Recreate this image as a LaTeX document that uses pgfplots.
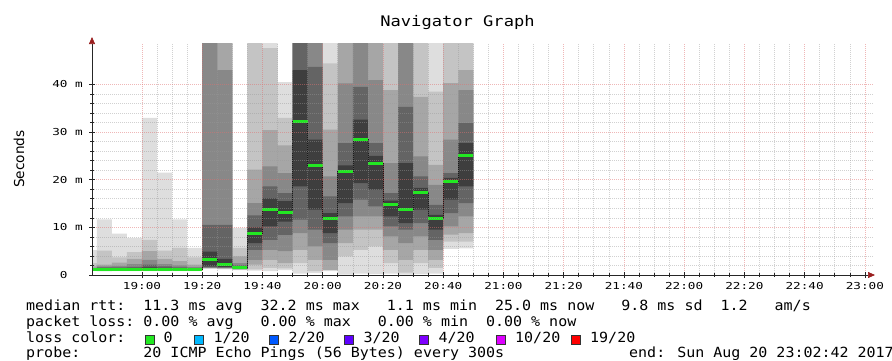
\documentclass[border=0pt]{standalone}
\usepackage{fontspec}
\usepackage{pgfplots}
\pgfplotsset{compat=1.18}
\usepackage{pgfplotstable}
\usepgfplotslibrary{fillbetween}
\usetikzlibrary{arrows.meta}
\setmainfont{DejaVu Sans Mono}
\newfontfamily\tickfont[FakeStretch=1.32]{DejaVu Sans Mono}
\newfontfamily\legfont[FakeStretch=1.07]{DejaVu Sans Mono}
\newfontfamily\titlefont[FakeStretch=1.17]{DejaVu Sans Mono}
\newfontfamily\labfont{DejaVu Sans}
\definecolor{cA}{HTML}{DEDEDE}
\definecolor{cB}{HTML}{C4C4C4}
\definecolor{cC}{HTML}{A6A6A6}
\definecolor{cD}{HTML}{888888}
\definecolor{cE}{HTML}{646464}
\definecolor{cF}{HTML}{3E3E3E}
\definecolor{lossgreen}{HTML}{22E822}
\definecolor{arrowred}{HTML}{9A1F1F}
\definecolor{mgrid}{HTML}{E07070}

\pgfplotstableread{
t    l1   h1   l2   h2   l3   h3   l4   h4   l5   h5   l6   h6   m
-20  0.8  5.2  0.9  2.5  1.0  1.8  1.1  1.5  1.15 1.4  1.2  1.35 1.2
-15  0.75 11.7 0.9  5.1  1.0  2.2  1.1  1.8  1.15 1.6  1.2  1.45 1.2
-10  0.8  8.7  0.9  3.7  1.0  2.6  1.1  1.9  1.15 1.6  1.2  1.45 1.2
-5   0.8  7.8  0.9  4.8  1.0  3.4  1.1  2.3  1.15 1.7  1.2  1.45 1.2
0    0.8  33.0 0.9  7.4  1.0  5.0  1.1  3.2  1.15 2.2  1.2  1.6  1.2
5    0.8  21.5 0.9  5.1  1.0  3.4  1.1  2.3  1.15 1.8  1.2  1.5  1.2
10   0.8  11.7 0.9  5.7  1.0  2.9  1.1  2.0  1.15 1.6  1.2  1.45 1.2
15   0.8  5.7  0.9  3.7  1.0  2.2  1.1  1.7  1.15 1.5  1.2  1.4  1.2
20   1.3  80   1.4  80   1.5  80   1.55 80   1.6  10.5 1.8  4.9  3.35
25   1.2  80   1.3  80   1.4  80   1.5  43.0 1.55 10.5 1.7  3.4  2.3
30   1.0  9.9  1.1  5.7  1.2  3.9  1.3  2.5  1.35 2.0  1.4  1.7  1.5
35   0.9  80   1.2  80   2.2  22.1 3.2  15.1 5.3  12.5 6.7  10.0 8.65
40   0.8  80   1.5  47.6 3.2  30.4 5.3  22.8 7.4  18.6 10.2 16.1 13.7
45   1.0  40.5 1.4  33.0 2.5  27.2 5.0  21.4 8.4  17.2 11.2 15.5 13.2
50   0.3  80   2.5  80   5.3  80   8.8  80   11.6 80   18.6 43.0 32.2
55   0.4  80   0.8  80   3.2  80   6.0  80   9.5  43.7 13.7 28.4 22.9
60   0.8  80   1.0  44.4 1.1  30.5 3.2  20.7 6.7  16.5 8.8  13.0 11.95
65   0.1  80   3.9  80   6.7  80   9.5  40.2 12.3 27.7 15.1 23.0 21.7
70   0.3  80   5.3  80   9.5  80   12.3 80   15.8 39.5 19.3 32.6 28.5
75   0.2  80   6.0  80   9.5  80   12.3 40.9 14.4 27.7 17.9 25.0 23.5
80   0.3  80   2.5  80   5.3  38.8 8.1  23.5 10.2 17.2 12.3 15.6 14.7
85   0.1  80   0.5  80   3.2  80   6.7  80   9.5  35.3 10.9 23.5 13.7
90   0.2  80   2.5  80   5.3  37.4 8.1  24.9 10.9 20.7 13.7 18.3 17.4
95   0.3  80   1.5  38.5 3.2  23.1 5.3  18.9 7.4  14.7 9.5  12.6 11.8
100  5.5  80   7.0  80   8.5  40.3 10.2 28.4 13.0 21.4 15.8 20.4 19.6
105  5.6  80   7.0  80   8.8  43.0 12.3 38.8 15.1 31.9 18.6 27.7 25.0
110  5.6  80   7.0  80   8.8  43.0 12.3 38.8 15.1 31.9 18.6 27.7 25.0
}\smoke

\begin{document}
\begin{tikzpicture}
\begin{axis}[
  at={(92pt,85pt)}, anchor=south west,
  scale only axis, width=781pt, height=232pt,
  xmin=-16.6, xmax=242.7, ymin=0, ymax=48.7,
  axis lines=left,
  axis line style={black!85, line width=0.7pt},
  x axis line style={-{Triangle[length=7pt,width=6pt,color=arrowred]}, shorten >=-2pt},
  y axis line style={-{Triangle[length=7pt,width=6pt,color=arrowred]}, shorten >=-6pt},
  xtick={0,20,...,240},
  xticklabels={19:00,19:20,19:40,20:00,20:20,20:40,21:00,21:20,21:40,22:00,22:20,22:40,23:00},
  minor x tick num=3,
  ytick={0,10,20,30,40},
  yticklabels={0\hphantom{\ m},10 m,20 m,30 m,40 m},
  minor y tick num=4,
  grid=both,
  major grid style={mgrid, opacity=0.5, dash pattern=on 1pt off 1pt, line width=0.6pt},
  minor grid style={black!40, opacity=0.45, dash pattern=on 1pt off 1pt, line width=0.6pt},
  tick align=center, major tick length=6pt, minor tick length=4pt,
  tick style={black!85, line width=0.6pt},
  xticklabel style={font=\tickfont\fontsize{9.6}{10}\selectfont, inner sep=0pt, anchor=north, yshift=-4pt},
  yticklabel style={font=\tickfont\fontsize{9.6}{10}\selectfont, inner sep=0pt, anchor=east, xshift=-6pt},
  axis on top,
]
\addplot[name path=H1, draw=none, const plot, forget plot] table[x=t,y=h1]{\smoke};
\addplot[name path=L1, draw=none, const plot, forget plot] table[x=t,y=l1]{\smoke};
\addplot[fill=cA, draw=none] fill between[of=H1 and L1];
\addplot[name path=H2, draw=none, const plot, forget plot] table[x=t,y=h2]{\smoke};
\addplot[name path=L2, draw=none, const plot, forget plot] table[x=t,y=l2]{\smoke};
\addplot[fill=cB, draw=none] fill between[of=H2 and L2];
\addplot[name path=H3, draw=none, const plot, forget plot] table[x=t,y=h3]{\smoke};
\addplot[name path=L3, draw=none, const plot, forget plot] table[x=t,y=l3]{\smoke};
\addplot[fill=cC, draw=none] fill between[of=H3 and L3];
\addplot[name path=H4, draw=none, const plot, forget plot] table[x=t,y=h4]{\smoke};
\addplot[name path=L4, draw=none, const plot, forget plot] table[x=t,y=l4]{\smoke};
\addplot[fill=cD, draw=none] fill between[of=H4 and L4];
\addplot[name path=H5, draw=none, const plot, forget plot] table[x=t,y=h5]{\smoke};
\addplot[name path=L5, draw=none, const plot, forget plot] table[x=t,y=l5]{\smoke};
\addplot[fill=cE, draw=none] fill between[of=H5 and L5];
\addplot[name path=H6, draw=none, const plot, forget plot] table[x=t,y=h6]{\smoke};
\addplot[name path=L6, draw=none, const plot, forget plot] table[x=t,y=l6]{\smoke};
\addplot[fill=cF, draw=none] fill between[of=H6 and L6];
\addplot[const plot, color=black!90, line width=0.6pt] table[x=t,y=m]{\smoke};
\addplot[jump mark left, color=lossgreen, line width=3pt] table[x=t,y=m]{\smoke};
\end{axis}

\node[anchor=base, font=\titlefont\fontsize{14.6}{16}\selectfont] at (457.5pt,333.3pt) {Navigator Graph};
\node[rotate=90, inner sep=0pt, font=\labfont\fontsize{13.7}{15}\selectfont] at (19pt,201pt) {Seconds};

\begin{scope}[every node/.style={anchor=base west, inner sep=0pt, font=\legfont\fontsize{14}{16}\selectfont}]
\node at (26pt,50pt) {median rtt:~~11.3 ms avg~~32.2 ms max~~~1.1 ms min~~25.0 ms now~~~9.8 ms sd~~1.2~~~am/s};
\node at (26pt,33.5pt) {packet loss:~0.00 \% avg~~~0.00 \% max~~~0.00 \% min~~0.00 \% now};
\node at (26pt,17.5pt) {loss color:};
\node at (163.3pt,17.5pt) {0};
\node at (213.3pt,17.5pt) {1/20};
\node at (288.3pt,17.5pt) {2/20};
\node at (363.3pt,17.5pt) {3/20};
\node at (438.3pt,17.5pt) {4/20};
\node at (515pt,17.5pt) {10/20};
\node at (590pt,17.5pt) {19/20};
\node at (26pt,2.5pt) {probe:~~~~~~~20 ICMP Echo Pings (56 Bytes) every 300s};
\node at (629pt,2.5pt) {end: Sun Aug 20 23:02:42 2017};
\end{scope}
\begin{scope}[draw=black!80, line width=0.6pt]
\filldraw[fill=lossgreen] (145.7pt,16pt) rectangle ++(9pt,9pt);
\filldraw[fill={rgb,255:red,0;green,184;blue,255}] (194.3pt,16pt) rectangle ++(9pt,9pt);
\filldraw[fill={rgb,255:red,0;green,89;blue,255}] (269.3pt,16pt) rectangle ++(9pt,9pt);
\filldraw[fill={rgb,255:red,94;green,0;blue,255}] (344.3pt,16pt) rectangle ++(9pt,9pt);
\filldraw[fill={rgb,255:red,126;green,0;blue,255}] (419.3pt,16pt) rectangle ++(9pt,9pt);
\filldraw[fill={rgb,255:red,221;green,0;blue,255}] (496pt,16pt) rectangle ++(9pt,9pt);
\filldraw[fill={rgb,255:red,255;green,0;blue,0}] (571pt,16pt) rectangle ++(9pt,9pt);
\end{scope}
\pgfresetboundingbox
\useasboundingbox (0,0) rectangle (892pt,360pt);
\end{tikzpicture}
\end{document}
